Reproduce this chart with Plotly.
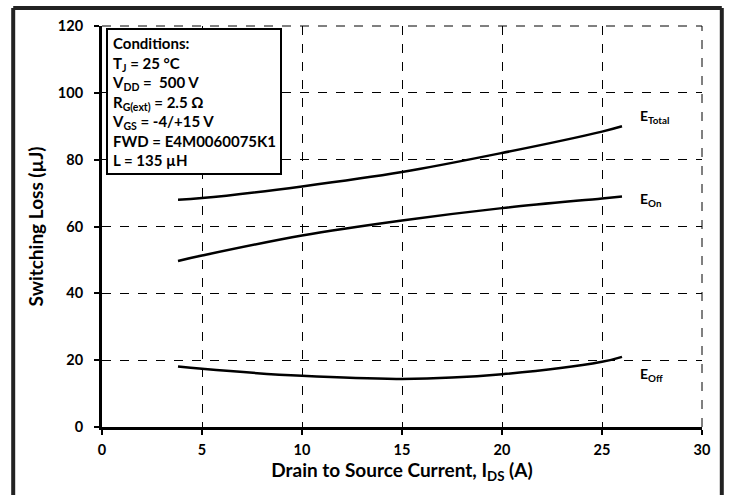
import plotly.graph_objects as go

ids = [3.8, 5, 10, 15, 20, 25, 26]
e_total = [68.0, 68.5, 72.0, 76.3, 82.0, 88.4, 90.0]
e_on = [49.7, 51.3, 57.3, 61.8, 65.5, 68.4, 69.0]
e_off = [18.1, 17.4, 15.3, 14.4, 15.8, 19.5, 21.0]

series = [
    ("E<sub>Total</sub>", e_total, 92.8),
    ("E<sub>On</sub>", e_on, 68.0),
    ("E<sub>Off</sub>", e_off, 15.8),
]

conditions = [
    "Conditions:",
    "T<sub>J</sub> = 25 °C",
    "V<sub>DD</sub> =  500 V",
    "R<sub>G(ext)</sub> = 2.5 Ω",
    "V<sub>GS</sub> = -4/+15 V",
    "FWD = E4M0060075K1",
    "L = 135 µH",
]

FONT = "Lato"
fig = go.Figure()
for name, vals, ly in series:
    fig.add_trace(go.Scatter(x=ids, y=vals, mode="lines",
                             line=dict(color="black", width=2.5, shape="spline"),
                             showlegend=False, hoverinfo="skip"))
    fig.add_annotation(x=26.8, y=ly, text=name, showarrow=False, xanchor="left",
                       font=dict(family=FONT, size=14, color="black", weight="bold"))

fig.add_annotation(xref="paper", yref="paper", x=0.007, y=0.995, xanchor="left", yanchor="top",
                   text="<br>".join(conditions), showarrow=False, align="left",
                   bordercolor="black", borderwidth=2, borderpad=4, bgcolor="white",
                   font=dict(family=FONT, size=15, color="black", weight="bold"))

# outer frame (left, top, right; open at the bottom)
frame = dict(color="#222", width=4)
fig.add_shape(type="line", xref="paper", yref="paper", x0=-0.148, x1=-0.148, y0=-0.3, y1=1.045, line=frame)
fig.add_shape(type="line", xref="paper", yref="paper", x0=1.033, x1=1.033, y0=-0.3, y1=1.045, line=frame)
fig.add_shape(type="line", xref="paper", yref="paper", x0=-0.148, x1=1.033, y0=1.045, y1=1.045, line=frame)
# top and right dashed borders
fig.add_shape(type="line", xref="paper", yref="paper", x0=0, x1=1, y0=1, y1=1,
              line=dict(color="black", width=1, dash="dash"))
fig.add_shape(type="line", xref="paper", yref="paper", x0=1, x1=1, y0=0, y1=1,
              line=dict(color="black", width=1, dash="dash"))

axis_common = dict(showgrid=True, gridcolor="black", gridwidth=1, griddash="dash",
                   showline=True, linecolor="black", linewidth=3, zeroline=False,
                   ticks="outside", ticklen=5, tickwidth=2, tickcolor="black",
                   tickfont=dict(family=FONT, size=14.5, color="black", weight="bold"))

fig.update_xaxes(range=[0, 30], dtick=5, ticklabelstandoff=3,
                 title=dict(text="Drain to Source Current, I<sub>DS</sub> (A)", standoff=4,
                            font=dict(family=FONT, size=19, color="black", weight="bold")),
                 **axis_common)
fig.update_yaxes(range=[0, 120], dtick=20, ticklabelstandoff=8,
                 title=dict(text="Switching Loss (µJ)", standoff=10,
                            font=dict(family=FONT, size=19, color="black", weight="bold")),
                 **axis_common)

fig.update_layout(width=730, height=495, margin=dict(l=102, r=28, t=26, b=68),
                  plot_bgcolor="white", paper_bgcolor="white")
fig.write_html("out.html")
